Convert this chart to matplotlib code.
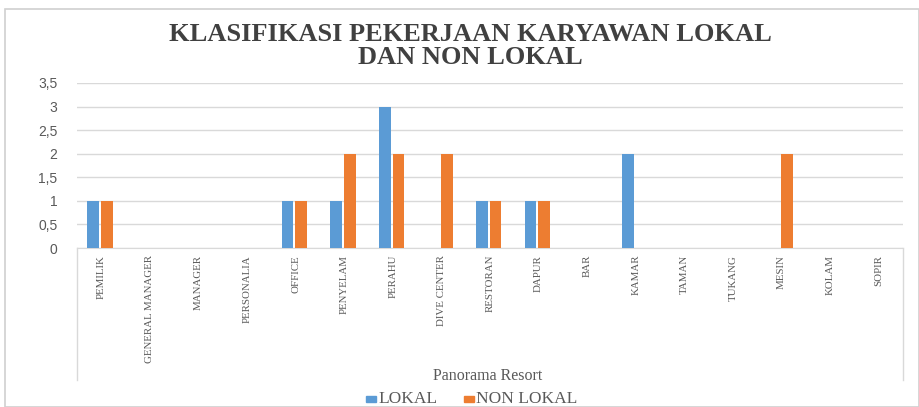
import matplotlib
matplotlib.use("Agg")
import matplotlib.pyplot as plt
import numpy as np
from matplotlib.lines import Line2D
from matplotlib.patches import Rectangle

categories = ["PEMILIK", "GENERAL MANAGER", "MANAGER", "PERSONALIA", "OFFICE",
              "PENYELAM", "PERAHU", "DIVE CENTER", "RESTORAN", "DAPUR", "BAR",
              "KAMAR", "TAMAN", "TUKANG", "MESIN", "KOLAM", "SOPIR"]
lokal = [1, 0, 0, 0, 1, 1, 3, 0, 1, 1, 0, 2, 0, 0, 0, 0, 0]
non_lokal = [1, 0, 0, 0, 1, 2, 2, 2, 1, 1, 0, 0, 0, 0, 2, 0, 0]
yticks = [0, 0.5, 1, 1.5, 2, 2.5, 3, 3.5]
ytick_labels = ["0", "0,5", "1", "1,5", "2", "2,5", "3", "3,5"]
title = "KLASIFIKASI PEKERJAAN KARYAWAN LOKAL\nDAN NON LOKAL"
group_label = "Panorama Resort"
series_names = ["LOKAL", "NON LOKAL"]

BLUE = "#5B9BD5"
ORANGE = "#ED7D31"
W, H = 919, 407
fig = plt.figure(figsize=(W / 100, H / 100), dpi=100)

# outer chart border
fig.patches.append(Rectangle((5 / W, 0), 1 - 5 / W, 1 - 9 / H, transform=fig.transFigure,
                             fill=False, edgecolor="#D0D0D0", linewidth=1.2))

left, right, bottom, top = 77 / W, 903 / W, 1 - 248 / H, 1 - 83 / H
ax = fig.add_axes([left, bottom, right - left, top - bottom])

x = np.arange(len(categories))
bw = 0.24
ax.bar(x - 0.165, lokal, width=bw, color=BLUE, zorder=3)
ax.bar(x + 0.115, non_lokal, width=bw, color=ORANGE, zorder=3)

ax.set_xlim(-0.5, len(categories) - 0.5)
ax.set_ylim(0, 3.5)
ax.set_yticks(yticks)
ax.set_yticklabels(ytick_labels, fontsize=10, color="#595959", family="Liberation Sans")
ax.yaxis.grid(True, color="#D9D9D9", linewidth=1, zorder=0)
ax.tick_params(axis="y", length=0, pad=14)
ax.tick_params(axis="x", length=0, pad=5)
ax.set_xticks(x)
ax.set_xticklabels(categories, rotation=90, va="top", ha="center", fontsize=7.8,
                   color="#595959", family="Liberation Serif")
for s in ["top", "right", "left"]:
    ax.spines[s].set_visible(False)
ax.spines["bottom"].set_color("#D9D9D9")

# group divider lines through label area
for xf in (left, right):
    fig.add_artist(Line2D([xf, xf], [1 - 248 / H, 1 - 380 / H], transform=fig.transFigure,
                          color="#D9D9D9", linewidth=1))

fig.text(488 / W, 1 - 376 / H, group_label, ha="center", va="center", fontsize=11.5,
         color="#595959", family="Liberation Serif")

fig.text(470 / W, 1 - 46 / H, title, ha="center", va="center", fontsize=19,
         fontweight="bold", color="#404040", family="Liberation Serif", linespacing=0.95)

# legend
ly = 1 - 399 / H
fig.patches.append(Rectangle((366 / W, ly - 3 / H), 10 / W, 6 / H, transform=fig.transFigure,
                             color=BLUE))
fig.text(378 / W, ly, series_names[0], ha="left", va="center", fontsize=12.5,
         color="#595959", family="Liberation Serif")
fig.patches.append(Rectangle((464 / W, ly - 3 / H), 10 / W, 6 / H, transform=fig.transFigure,
                             color=ORANGE))
fig.text(476 / W, ly, series_names[1], ha="left", va="center", fontsize=12.5,
         color="#595959", family="Liberation Serif")

fig.savefig("out.png", dpi=100)
